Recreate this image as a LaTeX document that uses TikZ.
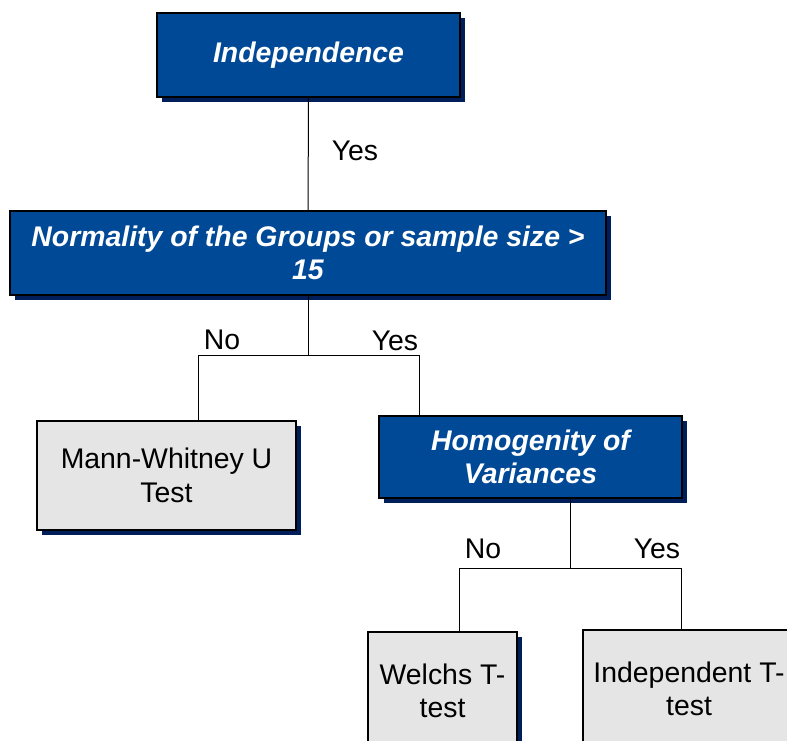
\documentclass[tikz,border=0pt]{standalone}
\usepackage{fontspec}
\setmainfont{Liberation Sans}
\usepackage{tikz}
\usetikzlibrary{positioning,shadows,calc}
\definecolor{boxblue}{RGB}{0,73,150}
\definecolor{shadowblue}{RGB}{0,30,90}
\definecolor{boxgrey}{RGB}{229,229,229}
\newcommand{\pxu}{0.75pt}

\begin{document}
\begin{tikzpicture}[
    x=0.75pt, y=-0.75pt,
    base/.style={draw, line width=0.9pt, align=center, inner sep=0pt,
      drop shadow={shadow xshift=3.5pt, shadow yshift=-3.5pt, fill=shadowblue, opacity=1}},
    decbox/.style={base, fill=boxblue, text=white, font=\fontsize{21.3}{25}\selectfont\bfseries\itshape},
    endbox/.style={base, fill=boxgrey, font=\fontsize{21.3}{25}\selectfont},
    conn/.style={line width=0.75pt},
    lbl/.style={font=\fontsize{21.3}{25}\selectfont},
  ]
  \useasboundingbox (0,0) rectangle (787,740);
  \clip (0,0) rectangle (787,740);

  % decisions
  \node[decbox, minimum width=303*\pxu, minimum height=84*\pxu] (indep) at (308.5,55) {Independence};
  \node[decbox, minimum width=596*\pxu, minimum height=84*\pxu] (normal) at (308,253) {Normality of the Groups or sample size >\\15};
  \node[decbox, minimum width=303*\pxu, minimum height=82*\pxu] (homog) at (530.5,457) {Homogenity of\\Variances};

  % tests
  \node[endbox, minimum width=259*\pxu, minimum height=109*\pxu] (mann) at (166.5,475.5) {Mann-Whitney U\\Test};
  \node[endbox, minimum width=149*\pxu, minimum height=118*\pxu] (welch) at (442.5,691) {Welchs T-\\test};
  \node[endbox, minimum width=212*\pxu, minimum height=118*\pxu] (indt) at (689,689) {Independent T-\\test};

  % first split
  \draw[conn] (indep) -- (normal);
  \node[lbl] (yes1) at (355,151) {Yes};
  \coordinate (j1) at (308,355);
  \coordinate (j1l) at (198,355);
  \coordinate (j1r) at (419,355);
  \draw[conn] (normal.south) -- (j1);
  \draw[conn] (j1l |- mann.north) -- (j1l) -- (j1r) -- (j1r |- homog.north);
  \node[lbl] (no1) at (222,340) {No};
  \node[lbl] (yes2) at (395,341) {Yes};

  % second split
  \coordinate (j2) at (570,568);
  \coordinate (j2l) at (459,568);
  \coordinate (j2r) at (681,568);
  \draw[conn] (homog.south -| j2) -- (j2);
  \draw[conn] (j2l |- welch.north) -- (j2l) -- (j2r) -- (j2r |- indt.north);
  \node[lbl] (no2) at (483,549) {No};
  \node[lbl] (yes3) at (657,549) {Yes};
\end{tikzpicture}
\end{document}
